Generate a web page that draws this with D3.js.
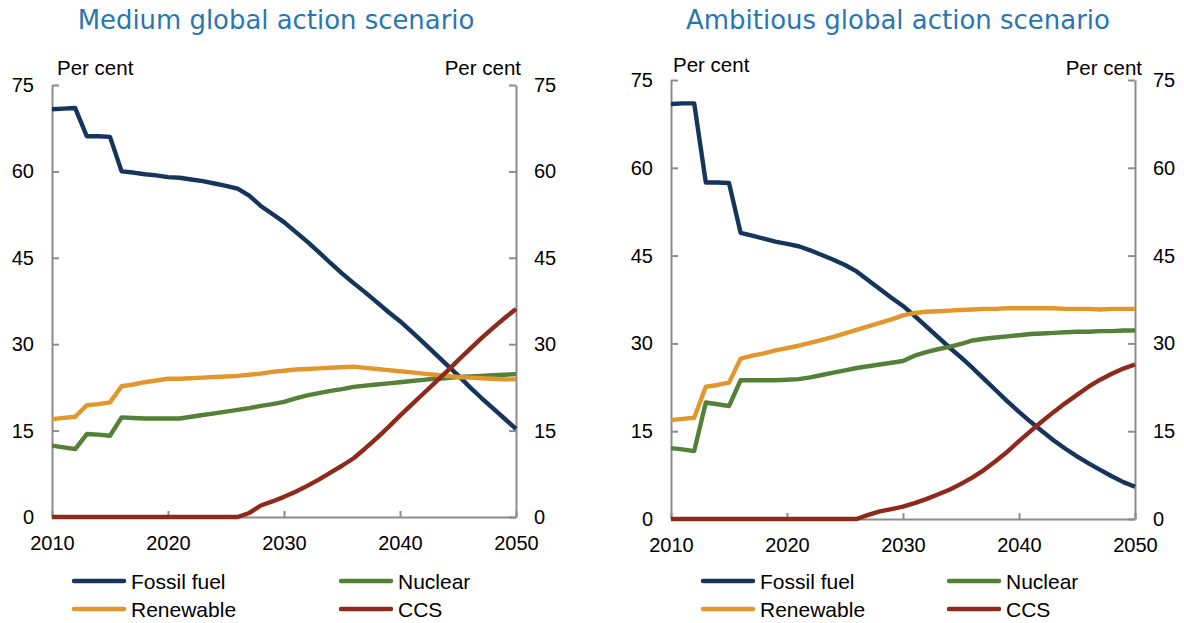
<!DOCTYPE html>
<html>
<head>
<meta charset="utf-8">
<script src="https://cdn.jsdelivr.net/npm/d3@7"></script>
<style>
  html, body { margin: 0; padding: 0; background: #fff; }
  svg { display: block; }
  text { font-family: "Liberation Sans", Arial, sans-serif; fill: #000; }
</style>
</head>
<body>
<svg id="chart" width="1184" height="623"></svg>
<script>
// ---- data ----
const years = d3.range(2010, 2051);
const yTicks = [0, 15, 30, 45, 60, 75];
const xTicks = [2010, 2020, 2030, 2040, 2050];
const seriesNames = ["Fossil fuel", "Nuclear", "Renewable", "CCS"];
const seriesColors = ["#15355d", "#538137", "#e3962c", "#8e2a1b"];
const panelTitles = ["Medium global action scenario", "Ambitious global action scenario"];

const medFossil = [70.8,70.9,71.0,66.1,66.1,66.0,60.0,59.8,59.5,59.3,59.0,58.9,58.6,58.3,57.9,57.5,57.0,55.8,54.0,52.6,51.2,49.5,47.8,46.0,44.1,42.3,40.6,39.0,37.3,35.6,34.0,32.2,30.3,28.4,26.5,24.6,22.6,20.7,18.9,17.1,15.3];
const medNuclear = [12.4,12.1,11.8,14.4,14.3,14.1,17.3,17.2,17.1,17.1,17.1,17.1,17.4,17.7,18.0,18.3,18.6,18.9,19.3,19.6,20.0,20.6,21.1,21.5,21.9,22.2,22.6,22.8,23.0,23.2,23.4,23.6,23.8,24.0,24.1,24.3,24.4,24.5,24.6,24.7,24.8];
const medRenewable = [17.0,17.2,17.4,19.4,19.6,19.9,22.7,23.0,23.4,23.7,24.0,24.0,24.1,24.2,24.3,24.4,24.5,24.7,24.9,25.2,25.4,25.6,25.7,25.8,25.9,26.0,26.1,25.9,25.7,25.5,25.3,25.1,24.9,24.7,24.5,24.3,24.2,24.1,24.0,23.9,23.9];
const medCCS = [0,0,0,0,0,0,0,0,0,0,0,0,0,0,0,0,0,0.7,2.0,2.7,3.5,4.4,5.4,6.5,7.7,8.9,10.2,11.9,13.7,15.6,17.6,19.5,21.4,23.3,25.2,27.2,29.1,31.0,32.8,34.5,36.1];

const ambFossil = [70.9,71.0,71.0,57.5,57.5,57.4,48.9,48.4,47.9,47.4,47.0,46.6,45.9,45.1,44.3,43.4,42.3,40.8,39.3,37.8,36.4,34.7,32.9,31.1,29.3,27.6,25.8,23.9,22.0,20.1,18.3,16.6,15.0,13.4,12.0,10.7,9.5,8.4,7.3,6.3,5.5];
const ambNuclear = [12.1,11.9,11.6,19.9,19.6,19.3,23.7,23.7,23.7,23.7,23.8,23.9,24.2,24.6,25.0,25.4,25.8,26.1,26.4,26.7,27.0,27.9,28.5,29.0,29.4,29.9,30.5,30.8,31.0,31.2,31.4,31.6,31.7,31.8,31.9,32.0,32.0,32.1,32.1,32.2,32.2];
const ambRenewable = [16.9,17.1,17.3,22.6,22.9,23.3,27.4,27.9,28.3,28.8,29.2,29.6,30.1,30.6,31.1,31.7,32.3,32.9,33.5,34.1,34.8,35.2,35.4,35.5,35.6,35.7,35.8,35.9,35.9,36.0,36.0,36.0,36.0,36.0,35.9,35.9,35.9,35.8,35.9,35.9,35.9];
const ambCCS = [0,0,0,0,0,0,0,0,0,0,0,0,0,0,0,0,0,0.7,1.3,1.7,2.1,2.7,3.4,4.2,5.0,6.0,7.1,8.4,9.9,11.5,13.3,15.0,16.7,18.3,19.8,21.2,22.6,23.8,24.8,25.7,26.4];

// ---- layout ----
const panels = [
  { title: panelTitles[0], titleX: 276, titleW: 397,
    left: 52, right: 516, top: 85, bottom: 517,
    unitL: { x: 57, y: 75 }, unitR: { x: 521, y: 75 },
    legend: { c1: 72, c2: 339, len: 54, y1: 581, y2: 609 },
    series: [medFossil, medNuclear, medRenewable, medCCS] },
  { title: panelTitles[1], titleX: 898, titleW: 424,
    left: 671, right: 1135, top: 80, bottom: 519,
    unitL: { x: 673, y: 72 }, unitR: { x: 1142, y: 75 },
    legend: { c1: 701, c2: 947, len: 54, y1: 581, y2: 609 },
    series: [ambFossil, ambNuclear, ambRenewable, ambCCS] }
];

const svg = d3.select("#chart");
const axisColor = "#8c8c8c";

panels.forEach(p => {
  const g = svg.append("g");
  const x = d3.scaleLinear().domain([2010, 2050]).range([p.left, p.right]);
  const y = d3.scaleLinear().domain([0, 75]).range([p.bottom, p.top]);

  // title
  const t = g.append("text")
    .attr("x", p.titleX).attr("y", 29)
    .attr("text-anchor", "middle")
    .style("font-family", "Verdana, 'DejaVu Sans', sans-serif")
    .style("font-size", "25px")
    .style("fill", "#2a76af")
    .text(p.title);
  const w = t.node().getComputedTextLength();
  t.style("font-size", (25 * p.titleW / w).toFixed(2) + "px");

  // unit labels
  g.append("text").attr("x", p.unitL.x).attr("y", p.unitL.y)
    .style("font-size", "20.5px").text("Per cent");
  g.append("text").attr("x", p.unitR.x).attr("y", p.unitR.y)
    .attr("text-anchor", "end").style("font-size", "20.5px").text("Per cent");

  // axes
  const styleAxis = sel => {
    sel.selectAll("path.domain").attr("stroke", axisColor).attr("stroke-width", 2);
    sel.selectAll(".tick line").attr("stroke", axisColor).attr("stroke-width", 2);
    sel.selectAll(".tick text").style("font-size", "20px")
      .style("font-family", "'Liberation Sans', Arial, sans-serif").attr("fill", "#000");
  };

  g.append("g").attr("transform", `translate(0,${p.bottom})`)
    .call(d3.axisBottom(x).tickValues(xTicks).tickFormat(d3.format("d"))
      .tickSize(-6).tickSizeOuter(0).tickPadding(19))
    .call(styleAxis);

  g.append("g").attr("transform", `translate(${p.left},0)`)
    .call(d3.axisLeft(y).tickValues(yTicks).tickSize(-7).tickSizeOuter(0).tickPadding(18))
    .call(styleAxis);

  g.append("g").attr("transform", `translate(${p.right},0)`)
    .call(d3.axisRight(y).tickValues(yTicks).tickSize(-7).tickSizeOuter(0).tickPadding(18))
    .call(styleAxis);

  // lines
  const line = d3.line().x((d, i) => x(years[i])).y(d => y(d));
  p.series.forEach((s, k) => {
    g.append("path").datum(s)
      .attr("d", line)
      .attr("fill", "none")
      .attr("stroke", seriesColors[k])
      .attr("stroke-width", 4.4)
      .attr("stroke-linejoin", "round");
  });

  // legend
  const L = p.legend;
  const pos = [[L.c1, L.y1], [L.c2, L.y1], [L.c1, L.y2], [L.c2, L.y2]];
  seriesNames.forEach((name, k) => {
    const [lx, ly] = pos[k];
    g.append("line").attr("x1", lx + 2).attr("x2", lx + L.len - 2)
      .attr("y1", ly).attr("y2", ly)
      .attr("stroke", seriesColors[k]).attr("stroke-width", 4.5)
      .attr("stroke-linecap", "round");
    g.append("text").attr("x", lx + L.len + 5).attr("y", ly).attr("dy", "0.36em")
      .style("font-size", "21px").text(name);
  });
});
</script>
</body>
</html>
